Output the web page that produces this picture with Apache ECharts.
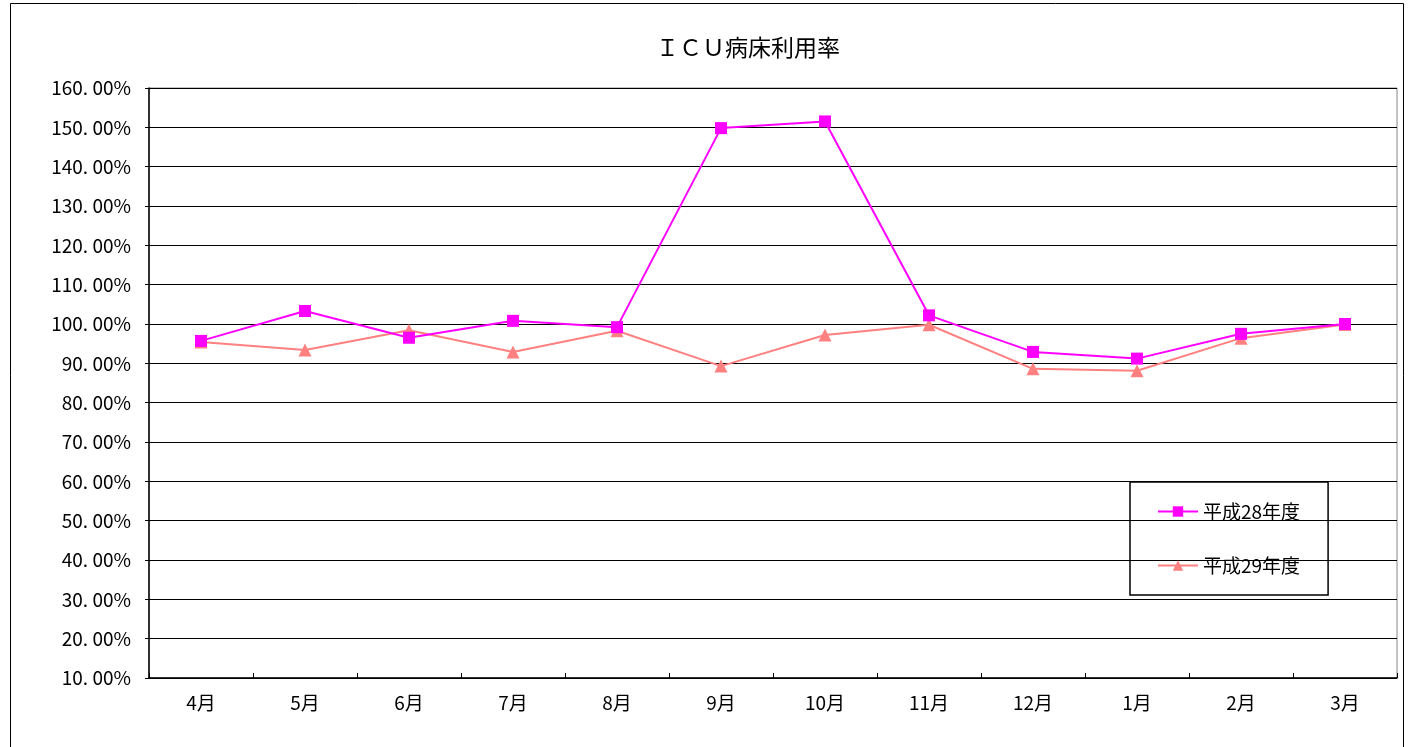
<!DOCTYPE html>
<html>
<head>
<meta charset="utf-8">
<title>ＩＣＵ病床利用率</title>
<script src="https://cdn.jsdelivr.net/npm/echarts@6/dist/echarts.min.js"></script>
<style>
  html, body { margin: 0; padding: 0; background: #fff; }
  #chart { width: 1412px; height: 747px; }
</style>
</head>
<body>
<div id="chart"></div>
<script>
// 月（年度順）
var months = ['4月', '5月', '6月', '7月', '8月', '9月', '10月', '11月', '12月', '1月', '2月', '3月'];
// 利用率（%）
var h28 = [95.7, 103.3, 96.5, 100.8, 99.2, 149.8, 151.5, 102.2, 92.9, 91.2, 97.5, 100.0];
var h29 = [95.4, 93.4, 98.4, 92.9, 98.3, 89.3, 97.2, 99.8, 88.6, 88.1, 96.4, 99.9];

var font = '"Noto Sans CJK JP", "Noto Sans", sans-serif';

var chart = echarts.init(document.getElementById('chart'));

chart.setOption({
  animation: false,
  textStyle: { fontFamily: font },
  title: {
    text: 'ＩＣＵ病床利用率',
    left: 651,
    top: 31,
    textStyle: { fontSize: 23, fontWeight: 'normal', color: '#000', fontFamily: font }
  },
  // 外枠
  graphic: [{
    type: 'rect',
    shape: { x: 10.5, y: 3.5, width: 1393, height: 760 },
    style: { fill: 'none', stroke: '#000', lineWidth: 1 },
    silent: true
  }],
  legend: {
    orient: 'vertical',
    left: 1130,
    top: 482,
    padding: [20, 28, 20, 27],
    itemGap: 35,
    itemWidth: 40,
    itemHeight: 13,
    borderColor: '#000',
    borderWidth: 1.5,
    textStyle: { fontSize: 19, color: '#000', fontFamily: font },
    data: ['平成28年度', '平成29年度']
  },
  grid: {
    left: 149,
    right: 15,
    top: 88,
    bottom: 69,
    show: true,
    borderColor: '#888',
    borderWidth: 1
  },
  xAxis: {
    type: 'category',
    data: months,
    boundaryGap: true,
    axisLine: { lineStyle: { color: '#000', width: 1.5 } },
    axisTick: { show: true, inside: true, length: 5, lineStyle: { color: '#000' } },
    axisLabel: { fontSize: 19, color: '#000', margin: 15, fontFamily: font }
  },
  yAxis: {
    type: 'value',
    min: 10,
    max: 160,
    interval: 10,
    axisLine: { show: true, lineStyle: { color: '#000', width: 1.5 } },
    axisTick: { show: true, length: 4, lineStyle: { color: '#000' } },
    splitLine: { lineStyle: { color: '#000', width: 1 } },
    axisLabel: {
      fontSize: 19,
      color: '#000',
      margin: 18,
      fontFamily: font,
      formatter: function (v) { return v.toFixed(2).replace('.', '. ') + '%'; }
    }
  },
  series: [
    {
      name: '平成28年度',
      type: 'line',
      data: h28,
      symbol: 'rect',
      symbolSize: 12,
      itemStyle: { color: '#FF00FF' },
      lineStyle: { color: '#FF00FF', width: 2 },
      z: 3
    },
    {
      name: '平成29年度',
      type: 'line',
      data: h29,
      symbol: 'triangle',
      symbolSize: 13,
      itemStyle: { color: '#FF8080' },
      lineStyle: { color: '#FF8080', width: 2 },
      z: 2
    }
  ]
});
</script>
</body>
</html>
